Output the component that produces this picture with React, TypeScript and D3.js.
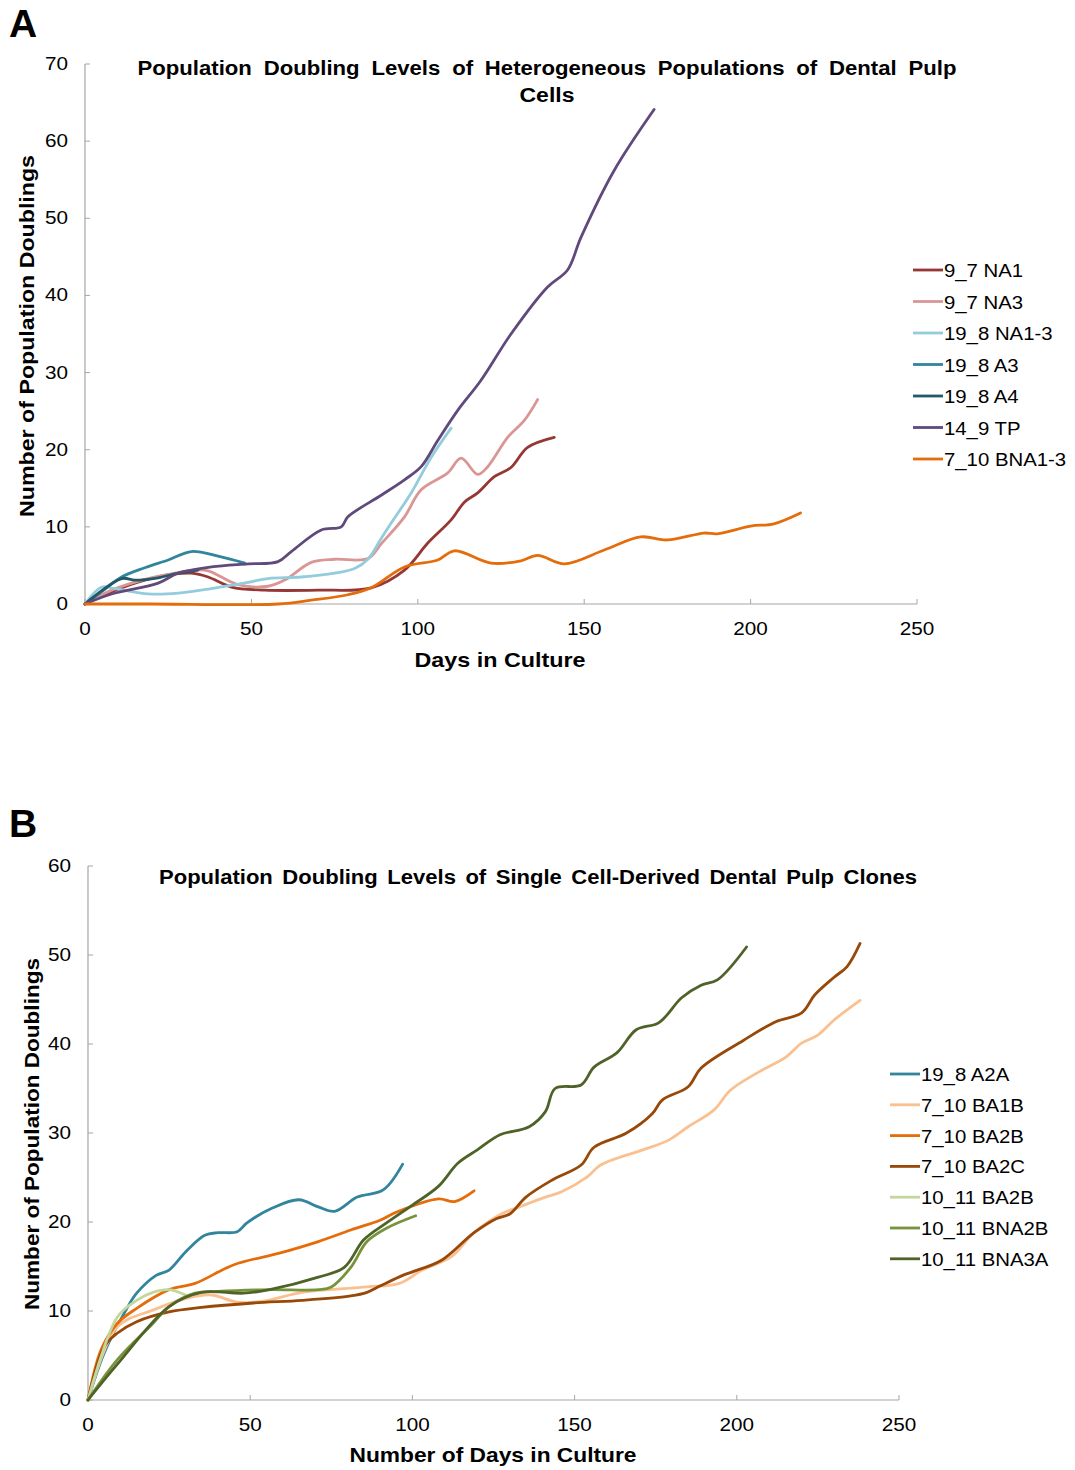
import React, { useRef, useEffect } from 'react';
import * as d3 from 'd3';

type Pt = [number, number];

// Panel A: heterogeneous populations (days, population doublings)
const na1_97: Pt[] = [[0, 0], [8, 1.6], [18, 3.1], [27, 3.9], [32, 4.0], [37, 3.5], [44, 2.2], [54, 1.8], [70, 1.8], [86, 2.1], [96, 4.4], [103, 7.9], [110, 10.9], [114, 13.2], [118, 14.4], [123, 16.5], [128, 17.7], [133, 20.3], [141, 21.6]];
const na3_97: Pt[] = [[0, 0], [8, 1.8], [18, 3.2], [27, 4.0], [33, 4.4], [37, 4.3], [46, 2.5], [55, 2.3], [60, 3.1], [68, 5.4], [75, 5.8], [85, 5.9], [89, 7.8], [96, 11.3], [101, 14.8], [109, 17], [113, 18.9], [118, 16.8], [121, 17.8], [127, 21.6], [132, 23.8], [136, 26.5]];
const na13_198: Pt[] = [[0, 0], [5, 2.2], [9, 2.0], [19, 1.3], [28, 1.4], [38, 2.0], [49, 2.8], [55, 3.3], [65, 3.5], [75, 4.0], [81, 4.6], [85, 5.8], [89, 8.5], [92, 10.5], [98, 14.4], [104, 19], [110, 22.8]];
const a3_198: Pt[] = [[0, 0], [5, 1.6], [11, 3.5], [18, 4.7], [25, 5.7], [32, 6.8], [40, 6.2], [48, 5.3]];
const a4_198: Pt[] = [[0, 0], [11, 3.3], [15, 3.1], [22, 3.4], [28, 4.0], [34, 4.4]];
const tp_149: Pt[] = [[0, 0], [8, 1.3], [22, 2.7], [28, 4.0], [38, 4.8], [49, 5.2], [58, 5.5], [62, 6.8], [71, 9.6], [77, 10.0], [79, 11.3], [89, 14.1], [96, 16.1], [101, 17.8], [106, 21.2], [112, 25.1], [119, 29], [128, 35], [139, 41.1], [145, 43.3], [149, 47.5], [159, 56.2], [171, 64.1]];
const bna13_710: Pt[] = [[0, 0], [20, 0], [58, 0], [68, 0.5], [79, 1.2], [86, 2.1], [96, 4.8], [106, 5.7], [111, 6.9], [122, 5.3], [131, 5.6], [136, 6.3], [144, 5.2], [156, 7.0], [167, 8.7], [175, 8.3], [186, 9.2], [190, 9.1], [200, 10.1], [207, 10.4], [215, 11.8]];

const namesA = ['9_7 NA1', '9_7 NA3', '19_8 NA1-3', '19_8 A3', '19_8 A4', '14_9 TP', '7_10 BNA1-3'];
const colorsA = ['#953735', '#d99694', '#93cddd', '#31859c', '#215968', '#604a7b', '#e46c0a'];
const seriesA = [na1_97, na3_97, na13_198, a3_198, a4_198, tp_149, bna13_710];

// Panel B: single cell-derived clones
const a2a_198: Pt[] = [[0, 0], [5, 5.3], [12, 10.3], [15, 12], [21, 14], [25, 14.6], [30, 16.6], [36, 18.5], [40, 18.8], [46, 18.9], [49, 19.9], [57, 21.6], [65, 22.5], [71, 21.7], [76, 21.2], [83, 22.8], [91, 23.6], [97, 26.5]];
const ba1b_710: Pt[] = [[0, 0], [9, 8.2], [20, 10.1], [30, 11.4], [38, 11.8], [46, 11.0], [54, 11.1], [66, 12.1], [86, 12.7], [96, 13.1], [103, 14.6], [112, 16.1], [119, 18.8], [128, 21], [133, 21.7], [141, 22.8], [146, 23.4], [154, 25.1], [158, 26.4], [171, 28.1], [179, 29.2], [185, 30.7], [193, 32.6], [198, 34.8], [207, 36.9], [215, 38.5], [220, 40.1], [225, 41], [230, 42.7], [238, 44.9]];
const ba2b_710: Pt[] = [[0, 0], [4, 5.6], [9, 8.6], [15, 10.3], [25, 12.4], [33, 13.1], [45, 15.2], [59, 16.5], [71, 17.8], [81, 19.1], [90, 20.2], [95, 21.1], [108, 22.6], [113, 22.3], [119, 23.5]];
const ba2c_710: Pt[] = [[0, 0], [5, 6], [9, 7.5], [15, 8.8], [25, 9.9], [35, 10.4], [51, 10.9], [66, 11.2], [81, 11.7], [86, 12.1], [90, 12.8], [97, 14.0], [100, 14.4], [109, 15.7], [119, 18.8], [126, 20.4], [130, 20.9], [135, 22.8], [143, 24.7], [152, 26.4], [156, 28.4], [166, 30], [174, 32.2], [177, 33.7], [185, 35.2], [189, 37.3], [202, 40.4], [212, 42.5], [220, 43.5], [224, 45.5], [230, 47.5], [234, 48.7], [238, 51.3]];
const ba2b_1011: Pt[] = [[0, 0], [9, 9.3], [15, 11.2], [20, 12.1], [25, 12.4], [30, 11.8]];
const bna2b_1011: Pt[] = [[0, 0], [9, 4.5], [20, 8.6], [25, 10.5], [33, 12], [40, 12.2], [56, 12.4], [71, 12.4], [75, 12.7], [81, 14.9], [86, 17.8], [92, 19.3], [101, 20.7]];
const bna3a_1011: Pt[] = [[0, 0], [9, 4], [25, 10.5], [35, 12.1], [48, 12], [56, 12.4], [71, 13.8], [79, 14.9], [85, 18], [92, 19.9], [100, 21.9], [108, 24], [114, 26.6], [120, 28.1], [127, 29.8], [136, 30.7], [141, 32.4], [144, 35], [152, 35.4], [156, 37.4], [163, 39], [169, 41.6], [176, 42.4], [183, 45.2], [189, 46.6], [194, 47.2], [203, 50.9]];

const namesB = ['19_8 A2A', '7_10 BA1B', '7_10 BA2B', '7_10 BA2C', '10_11 BA2B', '10_11 BNA2B', '10_11 BNA3A'];
const colorsB = ['#31859c', '#fac090', '#e46c0a', '#984807', '#c3d69b', '#77933c', '#4f6228'];
const seriesB = [a2a_198, ba1b_710, ba2b_710, ba2c_710, ba2b_1011, bna2b_1011, bna3a_1011];

const xTicks = [0, 50, 100, 150, 200, 250];
const yTicksA = [0, 10, 20, 30, 40, 50, 60, 70];
const yTicksB = [0, 10, 20, 30, 40, 50, 60];

const FONT = '"Liberation Sans", Arial, sans-serif';

const App = () => {
  const svgRef = useRef<SVGSVGElement>(null);

  useEffect(() => {
    const svg = d3.select(svgRef.current);
    svg.selectAll('*').remove();

    const drawPanel = (cfg: any) => {
      const x = d3.scaleLinear().domain([0, 250]).range([cfg.left, cfg.right]);
      const y = d3.scaleLinear().domain([0, cfg.yMax]).range([cfg.bottom, cfg.top]);
      const g = svg.append('g');

      // axes
      g.append('line').attr('x1', x(0)).attr('x2', x(0)).attr('y1', y(0)).attr('y2', y(cfg.yMax))
        .attr('stroke', '#a6a6a6').attr('stroke-width', 1.2);
      g.append('line').attr('x1', x(0)).attr('x2', x(250)).attr('y1', y(0)).attr('y2', y(0))
        .attr('stroke', '#a6a6a6').attr('stroke-width', 1.2);

      g.selectAll('.yt').data(cfg.yTicks).enter().append('line')
        .attr('x1', x(0)).attr('x2', x(0) + 5).attr('y1', (d: number) => y(d)).attr('y2', (d: number) => y(d))
        .attr('stroke', '#a6a6a6');
      g.selectAll('.xt').data(xTicks).enter().append('line')
        .attr('x1', (d) => x(d)).attr('x2', (d) => x(d)).attr('y1', y(0)).attr('y2', y(0) - 5)
        .attr('stroke', '#a6a6a6');

      // tick labels, a bit wider than the font's own shape
      g.selectAll('.yl').data(cfg.yTicks).enter().append('text')
        .attr('transform', (d: number) => `translate(${x(0) - 17},${y(d) + 6}) scale(1.15,1)`)
        .attr('text-anchor', 'end').attr('font-size', 18).attr('font-family', FONT)
        .text((d: number) => d);
      g.selectAll('.xl').data(xTicks).enter().append('text')
        .attr('transform', (d) => `translate(${x(d)},${y(0) + 31}) scale(1.15,1)`)
        .attr('text-anchor', 'middle').attr('font-size', 18).attr('font-family', FONT)
        .text((d) => d);

      // series
      const line = d3.line<Pt>().x(d => x(d[0])).y(d => y(d[1])).curve(d3.curveCatmullRom.alpha(0.5));
      cfg.series.forEach((s: Pt[], i: number) => {
        g.append('path').attr('d', line(s)).attr('fill', 'none')
          .attr('stroke', cfg.colors[i]).attr('stroke-width', 2.8)
          .attr('stroke-linejoin', 'round').attr('stroke-linecap', 'round');
      });

      // titles
      cfg.title.forEach((t: string, i: number) => {
        g.append('text').attr('x', cfg.titleX).attr('y', cfg.titleY + i * 27)
          .attr('text-anchor', 'middle').attr('font-size', 19.5).attr('font-weight', 'bold')
          .attr('font-family', FONT).attr('word-spacing', cfg.wordSpacing)
          .attr('textLength', cfg.titleLen[i]).attr('lengthAdjust', 'spacingAndGlyphs')
          .text(t);
      });
      g.append('text').attr('x', cfg.xLabelX).attr('y', cfg.xLabelY)
        .attr('text-anchor', 'middle').attr('font-size', 20.5).attr('font-weight', 'bold')
        .attr('font-family', FONT)
        .attr('textLength', cfg.xLabelLen).attr('lengthAdjust', 'spacingAndGlyphs')
        .text(cfg.xLabel);
      g.append('text').attr('transform', `translate(${cfg.yLabelX},${cfg.yLabelY}) rotate(-90)`)
        .attr('text-anchor', 'middle').attr('font-size', 20.5).attr('font-weight', 'bold')
        .attr('font-family', FONT)
        .attr('textLength', cfg.yLabelLen).attr('lengthAdjust', 'spacingAndGlyphs')
        .text('Number of Population Doublings');

      // legend
      cfg.names.forEach((n: string, i: number) => {
        const ly = cfg.legY + i * cfg.legStep;
        g.append('line').attr('x1', cfg.legX).attr('x2', cfg.legX + 30).attr('y1', ly).attr('y2', ly)
          .attr('stroke', cfg.colors[i]).attr('stroke-width', 2.8);
        g.append('text').attr('transform', `translate(${cfg.legX + 31},${ly + 7}) scale(1.1,1)`)
          .attr('font-size', 18.5).attr('font-family', FONT).text(n);
      });

      // panel letter
      g.append('text').attr('x', 9).attr('y', cfg.letterY).attr('font-size', 39).attr('font-weight', 'bold')
        .attr('font-family', FONT).text(cfg.letter);
    };

    drawPanel({
      left: 85, right: 917, top: 64, bottom: 604, yMax: 70, yTicks: yTicksA,
      series: seriesA, colors: colorsA, names: namesA,
      title: ['Population Doubling Levels of Heterogeneous Populations of Dental Pulp', 'Cells'],
      titleLen: [819, 55],
      titleX: 547, titleY: 75, wordSpacing: 5,
      xLabel: 'Days in Culture', xLabelX: 500, xLabelY: 667, xLabelLen: 171,
      yLabelX: 34, yLabelY: 336, yLabelLen: 362,
      legX: 913, legY: 270, legStep: 31.5,
      letter: 'A', letterY: 37,
    });

    drawPanel({
      left: 88, right: 899, top: 866, bottom: 1400, yMax: 60, yTicks: yTicksB,
      series: seriesB, colors: colorsB, names: namesB,
      title: ['Population Doubling Levels of Single Cell-Derived Dental Pulp Clones'],
      titleLen: [758],
      titleX: 538, titleY: 884, wordSpacing: 3,
      xLabel: 'Number of Days in Culture', xLabelX: 493, xLabelY: 1462, xLabelLen: 287,
      yLabelX: 39, yLabelY: 1134, yLabelLen: 352,
      legX: 890, legY: 1074, legStep: 30.8,
      letter: 'B', letterY: 837,
    });
  }, []);

  return (
    <svg ref={svgRef} width={1075} height={1470}
      style={{ position: 'absolute', left: 0, top: 0, background: '#fff' }} />
  );
};

export default App;
